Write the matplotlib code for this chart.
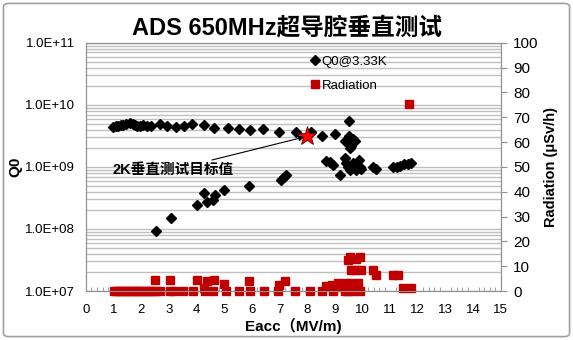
import matplotlib
matplotlib.use('Agg')
import matplotlib.pyplot as plt
from matplotlib.patches import FancyBboxPatch
from matplotlib.ticker import MultipleLocator, LogLocator

plt.rcParams['font.family'] = ['Liberation Sans', 'Noto Sans CJK SC', 'DejaVu Sans']

# Q0 @ 3.33K
q_eacc = [0.99, 1.08, 1.17, 1.25, 1.34, 1.46, 1.59, 1.69, 1.77, 1.85, 1.95, 2.07, 2.19,
          2.37, 2.67, 2.94, 3.25, 3.54, 3.85, 4.26, 4.63, 5.13, 5.54, 5.93, 6.41, 6.97,
          7.59, 8.12, 8.54,
          2.53, 3.06, 4.02, 4.26, 4.38, 4.58, 4.65, 5.0, 5.9, 7.05, 7.16, 7.25, 8.67,
          9.02, 9.5, 9.52, 9.36, 9.57, 9.64, 9.72, 9.54, 8.84, 8.92, 9.18, 9.36, 9.42,
          9.48, 9.54, 9.6, 9.66, 9.72, 9.78, 9.88, 9.9, 9.96, 10.38, 10.5, 11.1, 11.23,
          11.35, 11.49, 11.65, 11.77]
q_val = [4.4e9, 4.5e9, 4.6e9, 4.7e9, 4.8e9, 4.9e9, 5.1e9, 4.9e9, 4.8e9, 4.6e9, 4.5e9,
         4.7e9, 4.6e9, 4.6e9, 4.9e9, 4.6e9, 4.4e9, 4.6e9, 4.9e9, 4.7e9, 4.3e9, 4.3e9,
         4.1e9, 3.9e9, 4.1e9, 3.7e9, 3.7e9, 3.7e9, 3.2e9,
         9.3e7, 1.5e8, 2.4e8, 3.8e8, 2.7e8, 2.9e8, 3.5e8, 4.3e8, 5.0e8, 6.2e8, 7.0e8,
         7.4e8, 1.25e9,
         3.4e9, 5.6e9, 3.2e9, 2.6e9, 2.2e9, 2.8e9, 2.6e9, 2.0e9, 1.2e9, 1.07e9, 7.4e8,
         1.4e9, 1.17e9, 1.0e9, 8.9e8, 1.0e9, 1.15e9, 9.5e8, 8.9e8, 1.3e9, 1.0e9, 9.1e8,
         9.8e8, 9.1e8, 9.8e8, 1.0e9, 1.05e9, 1.1e9, 1.1e9, 1.15e9]

# Radiation (uSv/h)
r_eacc = [1.0, 1.1, 1.2, 1.3, 1.4, 1.5, 1.6, 1.7, 1.8, 1.9, 2.0, 2.1, 2.2, 2.3, 2.4, 2.55,
          2.67, 3.04, 3.2, 3.52, 3.88, 4.3, 4.6, 5.08, 5.54, 5.93, 6.43, 6.95, 7.55, 8.1,
          8.52, 8.94, 9.36, 9.48, 9.64, 9.9,
          2.5, 3.05, 4.02, 4.38, 4.64, 4.28, 5.0, 5.9, 6.99, 7.19, 8.67, 8.88, 9.12, 9.24,
          9.42, 9.54, 9.84, 9.78, 9.48, 9.56, 9.6, 9.72, 9.76, 9.9, 9.96, 10.38, 10.5,
          11.1, 11.29, 11.47, 11.77, 11.69]
r_val = [0] * 36 + [4.4, 4.4, 4.4, 4.0, 4.4, 1.1, 2.8, 4.0, 2.4, 4.0, 2.0, 2.4, 3.1, 1.7,
                    3.1, 3.1, 3.1, 2.4, 12.5, 13.6, 8.5, 8.5, 12.8, 13.6, 8.5, 8.5, 6.5,
                    6.5, 6.5, 1.1, 1.1, 75.4]

target_eacc = 8.0
target_q = 3.2e9

fig = plt.figure(figsize=(5.73, 3.4), dpi=100)
fig.patches.append(FancyBboxPatch((0.006, 0.01), 0.988, 0.98, boxstyle='round,pad=0,rounding_size=0.01',
                                  transform=fig.transFigure, fill=False, edgecolor='#a0a0a0',
                                  linewidth=1.2))
ax1 = fig.add_axes([0.150, 0.144, 0.724, 0.730])
ax2 = ax1.twinx()

ax1.set_yscale('log')
ax1.set_ylim(1e7, 1e11)
ax1.set_xlim(0, 15)
ax2.set_ylim(0, 100)

ax1.yaxis.set_major_locator(LogLocator(base=10, numticks=10))
ax1.yaxis.set_minor_locator(LogLocator(base=10, subs=range(2, 10), numticks=10))
ax1.grid(True, which='both', axis='y', color='#c0c0c0', linewidth=1)
ax1.set_axisbelow(True)

ax1.xaxis.set_major_locator(MultipleLocator(1))
ax1.xaxis.set_minor_locator(MultipleLocator(0.2))
ax1.tick_params(axis='x', which='both', direction='in', color='#909090', labelsize=9.5, pad=9)
ax1.tick_params(axis='x', which='major', length=0)
ax1.tick_params(axis='x', which='minor', length=3)
ax1.tick_params(axis='y', which='both', length=0, labelsize=9.5, pad=8)
ax1.set_yticks([1e7, 1e8, 1e9, 1e10, 1e11])
ax1.set_yticklabels(['1.0E+07', '1.0E+08', '1.0E+09', '1.0E+10', '1.0E+11'])

ax2.yaxis.set_major_locator(MultipleLocator(10))
ax2.tick_params(axis='y', direction='out', length=4, color='#909090', labelsize=11, pad=5)

for a in (ax1, ax2):
    for s in a.spines.values():
        s.set_color('#909090')

ax1.plot(q_eacc, q_val, linestyle='none', marker='D', markersize=5.5, color='black',
         label='Q0@3.33K')
ax2.plot(r_eacc, r_val, linestyle='none', marker='s', markersize=5.5, color='#c00000',
         label='Radiation', clip_on=False)
ax1.plot([target_eacc], [target_q], linestyle='none', marker='*', markersize=14,
         markerfacecolor='red', markeredgecolor='#600000', markeredgewidth=0.6, zorder=5)

ax1.annotate('2K垂直测试目标值', xy=(target_eacc - 0.1, target_q * 0.95), xytext=(0.95, 9e8),
             fontsize=10.5, fontweight='bold', va='center', ha='left',
             arrowprops=dict(arrowstyle='-|>', color='black', lw=0.8, shrinkA=0, shrinkB=0,
                             mutation_scale=8),
             annotation_clip=False)

h1, l1 = ax1.get_legend_handles_labels()
h2, l2 = ax2.get_legend_handles_labels()
ax2.legend(h1 + h2, l1 + l2, loc='upper left', bbox_to_anchor=(0.53, 0.97), frameon=False,
           fontsize=9.5, handlelength=0.6, handletextpad=0.2, labelspacing=0.9,
           borderaxespad=0)

ax1.set_xlabel('Eacc（MV/m)', fontsize=11, fontweight='bold', labelpad=2)
ax1.set_ylabel('Q0', fontsize=11, fontweight='bold', labelpad=2)
ax2.set_ylabel('Radiation (μSv/h)', fontsize=10.5, fontweight='bold', labelpad=4)
fig.text(0.5, 0.918, 'ADS 650MHz超导腔垂直测试', ha='center', va='center', fontsize=17,
         fontweight='bold')

fig.savefig('out.png', dpi=100)
